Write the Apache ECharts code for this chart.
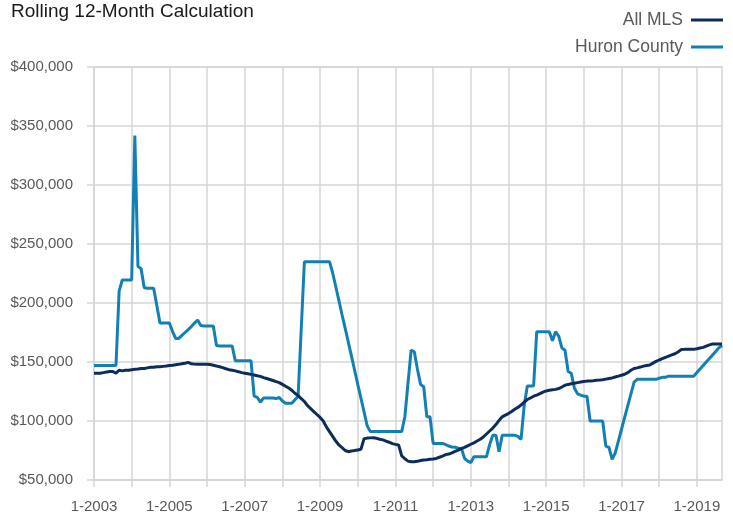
<!DOCTYPE html>
<html>
<head>
<meta charset="utf-8">
<script src="https://cdn.jsdelivr.net/npm/echarts@6/dist/echarts.min.js"></script>
<style>html,body{margin:0;padding:0;background:#fff}#c{width:733px;height:515px}</style>
</head>
<body>
<div id="c"></div>
<script>
const titleText = 'Rolling 12-Month Calculation';
const seriesNames = ['All MLS', 'Huron County'];
const startYear = 2003;
const monthCount = 201; // 1-2003 .. 9-2019

const allMLS = [
140400,140500,140500,141000,141500,142000,142000,140500,143000,142500,143000,143000,
143500,143800,144000,144500,144500,145000,145500,145500,146000,146000,146300,146600,
147000,147300,147700,148000,148500,149000,149700,148500,148200,148000,148000,148000,
148000,147800,147300,146600,146000,145200,144300,143500,143000,142500,141800,141000,
140500,140000,139500,139000,138300,137800,136800,136000,135200,134300,133400,132500,
131000,129500,128000,126000,123500,121500,119000,116500,113000,110500,108000,105500,
103000,100000,95000,91000,87000,83000,79700,77500,75000,74000,74600,75000,
75500,76000,85000,85500,85700,85800,85300,84500,84000,83000,82000,80800,
80200,79700,70500,68000,66000,65500,65500,65800,66500,67000,67200,67500,
67800,68300,69300,70300,71500,72000,73000,74300,75400,76500,77700,79000,
80300,81500,83000,84500,86500,89000,91500,94000,97000,100500,103500,105000,
106300,108000,110000,111500,113500,116000,118200,119500,121000,122000,123200,124500,
125500,126000,126500,126800,127500,128800,130300,131000,131500,132000,132500,133000,
133500,133800,134000,134200,134500,134700,135000,135500,136000,136500,137300,138000,
138800,139600,141000,143000,144500,145000,145700,146500,147000,147500,149000,150500,
151700,152800,154000,155000,156000,157000,158500,160500,160700,160700,160700,160700,
161200,161800,162400,163500,164500,165200,165200,165200,165200
];

const huronCounty = [
147000,147000,147000,147000,147000,147000,147000,147000,210000,219500,219500,219500,
219500,342000,231000,229000,213000,212500,212500,212500,198000,183000,183000,183000,
183000,176000,170000,170000,172500,175000,177500,180000,183000,185600,181000,180500,
180500,180500,180500,164000,163600,163600,163600,163600,163600,151000,151000,151000,
151000,151000,151000,121000,120000,116000,119500,119500,119500,119500,119000,120000,
117000,115000,115000,115000,118000,121000,178000,235000,235000,235000,235000,235000,
235000,235000,235000,235000,225600,213800,202000,190000,178500,166700,155000,143000,
131000,119500,107700,96000,91000,91000,91000,91000,91000,91000,91000,91000,
91000,91000,91000,103600,132000,160000,158700,144000,131000,129000,103600,103600,
81000,81000,81000,81000,80000,78800,78000,77700,77000,76800,68400,66000,
64700,69800,69800,69800,69800,69800,80000,88000,88000,74000,88000,88000,
88000,88000,88000,87000,84500,113000,129700,129700,129700,175700,175700,175700,
175700,175700,168000,175700,172000,162000,160000,142000,140400,127700,123000,122000,
121000,121000,100000,100000,100000,100000,100000,78800,77700,67500,73000,83000,
93000,103000,113000,123000,133000,135300,135300,135300,135300,135300,135300,135300,
136200,137000,137000,138000,138000,138000,138000,138000,138000,138000,138000,138000,
141000,144000,147000,150000,153000,156000,159000,162000,164000
];

const yMin = 50000, yMax = 400000, yStep = 50000;

const categories = [];
for (let i = 0; i < monthCount; i++) {
  categories.push(((i % 12) + 1) + '-' + (startYear + Math.floor(i / 12)));
}

const gridColor = '#d6d6d6';
const textColor = '#595959';
const fontFam = '"Liberation Sans", Arial, sans-serif';

const chart = echarts.init(document.getElementById('c'), null, {renderer: 'canvas'});
chart.setOption({
  animation: false,
  backgroundColor: '#ffffff',
  title: {
    text: titleText, left: 11, top: 2, padding: 0,
    textStyle: {fontFamily: fontFam, fontSize: 19, fontWeight: 'normal', color: '#1a1a1a'}
  },
  legend: {
    orient: 'vertical', right: 10, top: 11, align: 'right', padding: 0,
    itemWidth: 32, itemHeight: 3, itemGap: 9, icon: 'rect',
    textStyle: {fontFamily: fontFam, fontSize: 17.5, color: textColor, padding: [0, 3, 0, 0]},
    data: seriesNames
  },
  grid: {
    left: 94, right: 11, top: 67, bottom: 35, containLabel: false,
    show: true, borderColor: gridColor, borderWidth: 1.5
  },
  xAxis: {
    type: 'category', data: categories, boundaryGap: false,
    axisLine: {show: true, lineStyle: {color: gridColor, width: 2}},
    axisTick: {show: true, interval: 11, length: 7, lineStyle: {color: gridColor, width: 1.5}},
    axisLabel: {interval: 23, color: textColor, fontFamily: fontFam, fontSize: 15, margin: 19},
    splitLine: {show: true, interval: 11, lineStyle: {color: gridColor, width: 1.5}}
  },
  yAxis: {
    type: 'value', min: yMin, max: yMax, interval: yStep,
    axisLine: {show: false},
    axisTick: {show: true, length: 7, lineStyle: {color: gridColor, width: 1.5}},
    axisLabel: {
      color: textColor, fontFamily: fontFam, fontSize: 15, margin: 21,
      formatter: v => '$' + v.toLocaleString('en-US')
    },
    splitLine: {show: true, lineStyle: {color: gridColor, width: 1.5}}
  },
  series: [
    {name: seriesNames[0], type: 'line', data: allMLS, showSymbol: false, symbol: 'none',
     lineStyle: {color: '#0c2d5c', width: 3}, itemStyle: {color: '#0c2d5c'}, z: 3},
    {name: seriesNames[1], type: 'line', data: huronCounty, showSymbol: false, symbol: 'none',
     lineStyle: {color: '#1380b5', width: 3}, itemStyle: {color: '#1380b5'}, z: 2}
  ]
});
</script>
</body>
</html>
